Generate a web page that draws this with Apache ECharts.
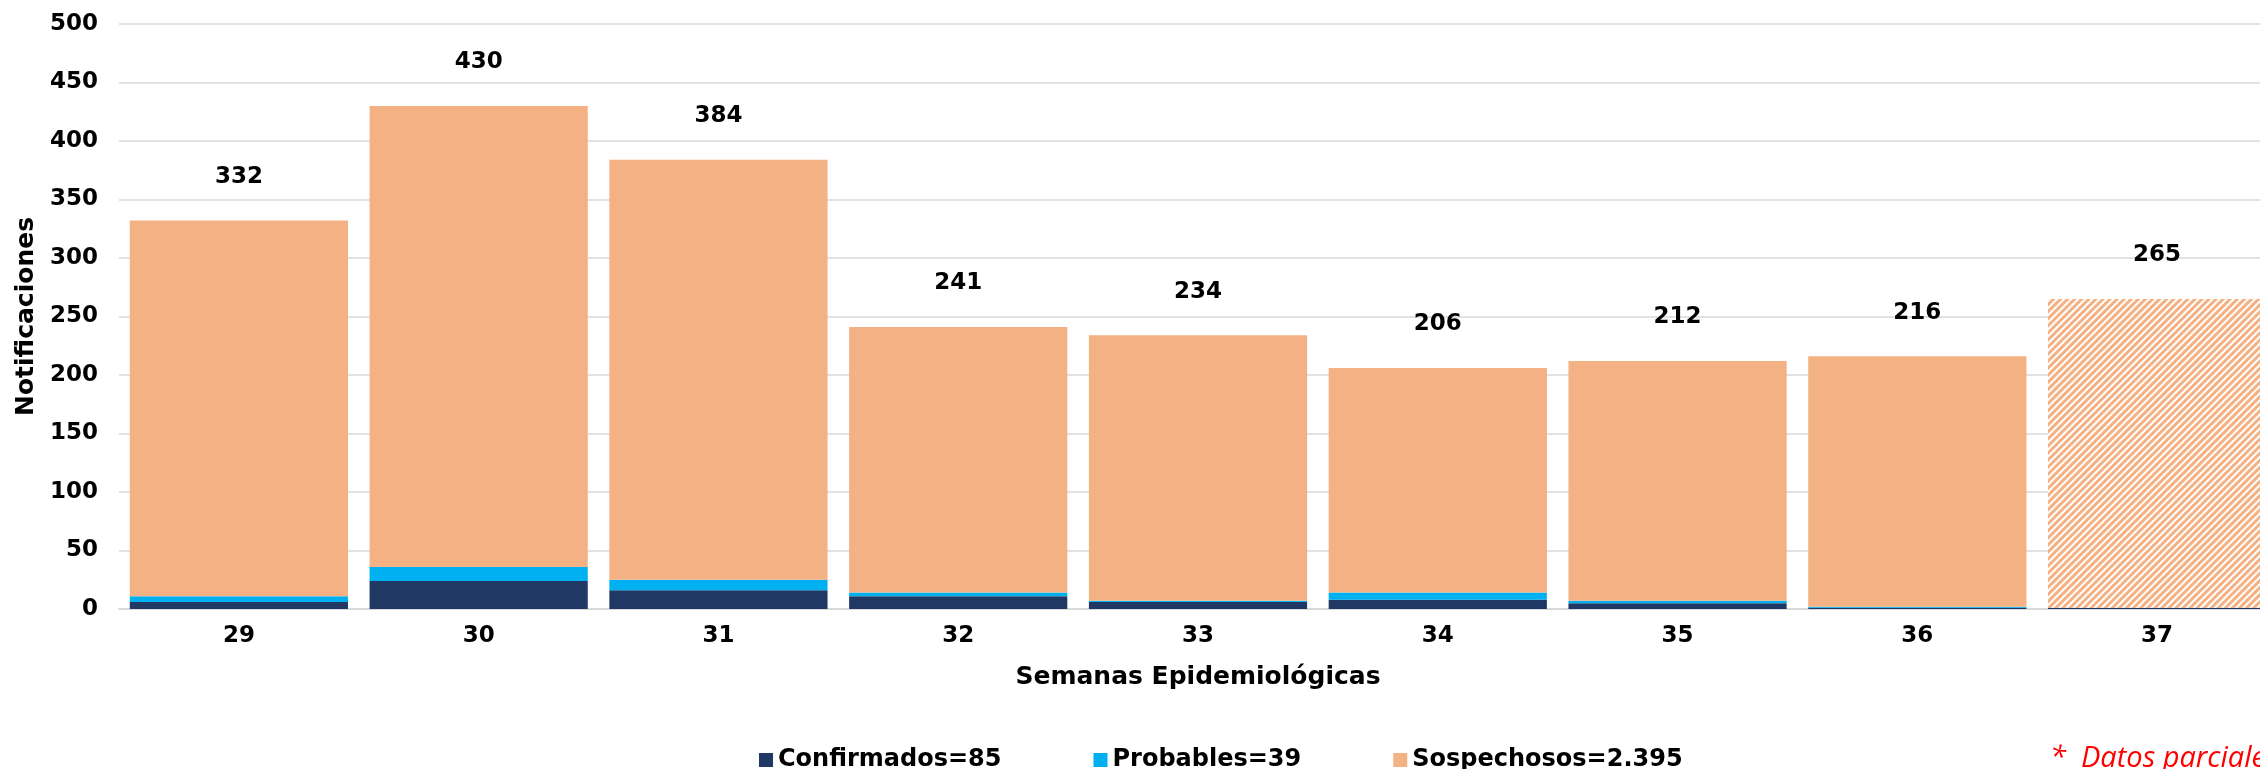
<!DOCTYPE html>
<html>
<head>
<meta charset="utf-8">
<script src="https://cdn.jsdelivr.net/npm/echarts@6/dist/echarts.min.js"></script>
<style>
  html, body { margin: 0; padding: 0; background: #fff; }
  #myChart { width: 2260px; height: 769px; }
</style>
</head>
<body>
<div id="myChart"></div>
<script>
// datos
const semanas = ['29', '30', '31', '32', '33', '34', '35', '36', '37']
const confirmados = [6, 24, 16, 11, 6, 8, 5, 1, 1]
const probables = [5, 12, 9, 3, 1, 6, 2, 1, 0]
const sospechosos = [321, 394, 359, 227, 227, 192, 205, 214, 264]
const totales = [332, 430, 384, 241, 234, 206, 212, 216, 265]
const nombres = ['Confirmados=85', 'Probables=39', 'Sospechosos=2.395']
const semanaParcial = '37'

const fuente = 'DejaVu Sans'
const colores = ['#1F3864', '#00B0F0', '#F4B183']

let myChart = echarts.init(document.getElementById('myChart'))

// la semana parcial va rayada
let datosSosp = sospechosos.map((v, i) => {
    if (semanas[i] !== semanaParcial) return v
    return {
        value: v,
        itemStyle: {
            decal: {
                symbol: 'rect',
                symbolSize: 1,
                color: '#ffffff',
                dashArrayX: [1, 0],
                dashArrayY: [2, 2.2],
                rotation: -Math.PI / 4
            }
        }
    }
})

myChart.setOption({
    animation: false,
    color: colores,
    // el gráfico original está recortado a la derecha
    grid: { left: 119, right: -17, top: 24, bottom: 160, outerBoundsMode: 'none', containLabel: false },
    legend: {
        data: nombres,
        left: 754,
        top: 743,
        icon: 'rect',
        itemWidth: 14,
        itemHeight: 14,
        itemGap: 92,
        textStyle: { fontFamily: fuente, fontWeight: 'bold', fontSize: 24, color: '#000' }
    },
    xAxis: {
        type: 'category',
        data: semanas,
        name: 'Semanas Epidemiológicas',
        nameLocation: 'middle',
        nameGap: 56,
        nameTextStyle: { fontFamily: fuente, fontWeight: 'bold', fontSize: 25, color: '#000' },
        axisLine: { lineStyle: { color: '#D9D9D9', width: 2 } },
        axisTick: { show: false },
        axisLabel: { margin: 16, fontFamily: fuente, fontWeight: 'bold', fontSize: 23, color: '#000' }
    },
    yAxis: {
        type: 'value',
        min: 0,
        max: 500,
        interval: 50,
        name: 'Notificaciones',
        nameLocation: 'middle',
        nameRotate: 90,
        nameGap: 80,
        nameTextStyle: { fontFamily: fuente, fontWeight: 'bold', fontSize: 25, color: '#000' },
        axisLine: { show: false },
        axisTick: { show: false },
        axisLabel: { margin: 21, fontFamily: fuente, fontWeight: 'bold', fontSize: 23, color: '#000' },
        splitLine: { lineStyle: { color: '#D9D9D9', width: 1.5 } }
    },
    graphic: [{
        type: 'text',
        left: 2050,
        top: 744,
        style: {
            text: '*  Datos parciales',
            fill: '#FF0000',
            font: 'italic 29px "Open Sans"'
        }
    }],
    series: [
        {
            name: nombres[0],
            type: 'bar',
            stack: 'total',
            barCategoryGap: '9%',
            data: confirmados
        },
        {
            name: nombres[1],
            type: 'bar',
            stack: 'total',
            data: probables
        },
        {
            name: nombres[2],
            type: 'bar',
            stack: 'total',
            data: datosSosp,
            label: {
                show: true,
                position: 'top',
                distance: 32,
                fontFamily: fuente,
                fontWeight: 'bold',
                fontSize: 23,
                color: '#000',
                formatter: p => totales[p.dataIndex]
            }
        }
    ]
})
</script>
</body>
</html>
